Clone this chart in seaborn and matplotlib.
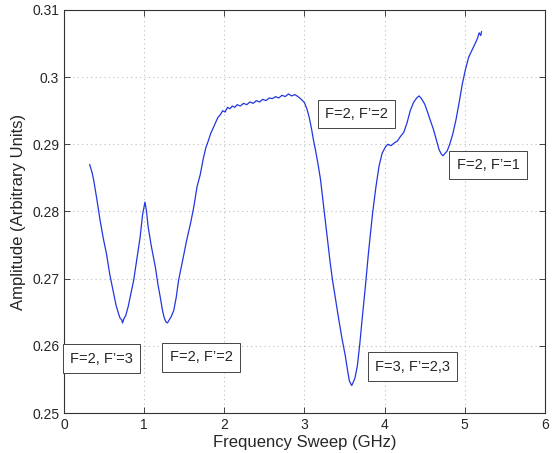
import matplotlib
matplotlib.use("Agg")
import matplotlib.pyplot as plt
import seaborn as sns
import pandas as pd

# frequency sweep (GHz) and amplitude
freq = [0.32, 0.35, 0.37, 0.41, 0.45, 0.49, 0.53, 0.57, 0.62, 0.65, 0.68, 0.70,
        0.72, 0.73, 0.75, 0.77, 0.80, 0.83, 0.87, 0.91, 0.95, 0.98, 1.00, 1.01,
        1.03, 1.05, 1.09, 1.14, 1.17, 1.20, 1.23, 1.25, 1.27, 1.29, 1.31, 1.34,
        1.37, 1.40, 1.43, 1.48, 1.53, 1.58, 1.62, 1.66, 1.70, 1.74, 1.77, 1.80,
        1.83, 1.86, 1.89, 1.92, 1.95, 1.98, 2.01, 2.04, 2.07, 2.10, 2.13, 2.16,
        2.20, 2.24, 2.28, 2.32, 2.36, 2.40, 2.44, 2.48, 2.52, 2.56, 2.60, 2.64,
        2.68, 2.72, 2.76, 2.80, 2.84, 2.88, 2.92, 2.96, 3.00, 3.03, 3.06, 3.09,
        3.11, 3.14, 3.17, 3.20, 3.24, 3.28, 3.32, 3.35, 3.39, 3.43, 3.47, 3.51,
        3.54, 3.56, 3.58, 3.59, 3.61, 3.63, 3.66, 3.69, 3.72, 3.76, 3.80, 3.85,
        3.89, 3.93, 3.97, 4.01, 4.04, 4.08, 4.12, 4.16, 4.20, 4.24, 4.28, 4.32,
        4.36, 4.40, 4.43, 4.46, 4.50, 4.53, 4.57, 4.61, 4.65, 4.68, 4.71, 4.73,
        4.75, 4.78, 4.81, 4.85, 4.89, 4.93, 4.97, 5.01, 5.05, 5.09, 5.13, 5.16,
        5.18, 5.20, 5.21]
amp = [0.2870, 0.2858, 0.2847, 0.2818, 0.2787, 0.2760, 0.2737, 0.2707, 0.2678, 0.2660, 0.2648, 0.2641,
       0.2639, 0.2634, 0.2641, 0.2645, 0.2658, 0.2675, 0.2698, 0.2730, 0.2762, 0.2795, 0.2808, 0.2814,
       0.2800, 0.2777, 0.2748, 0.2717, 0.2693, 0.2673, 0.2652, 0.2642, 0.2636, 0.2634, 0.2638, 0.2644,
       0.2653, 0.2672, 0.2698, 0.2727, 0.2757, 0.2783, 0.2807, 0.2837, 0.2855, 0.2880, 0.2895, 0.2905,
       0.2916, 0.2924, 0.2932, 0.2940, 0.2944, 0.2950, 0.2948, 0.2955, 0.2953, 0.2957, 0.2955, 0.2959,
       0.2957, 0.2961, 0.2959, 0.2963, 0.2961, 0.2965, 0.2963, 0.2967, 0.2965, 0.2969, 0.2968, 0.2971,
       0.2969, 0.2973, 0.2971, 0.2975, 0.2972, 0.2974, 0.2971, 0.2967, 0.2962, 0.2953, 0.2940, 0.2922,
       0.2908, 0.2890, 0.2870, 0.2848, 0.2807, 0.2765, 0.2725, 0.2698, 0.2668, 0.2638, 0.2610, 0.2585,
       0.2562, 0.2548, 0.2543, 0.2541, 0.2546, 0.2552, 0.2570, 0.2602, 0.2640, 0.2688, 0.2740, 0.2797,
       0.2835, 0.2867, 0.2887, 0.2896, 0.2900, 0.2898, 0.2902, 0.2905, 0.2912, 0.2918, 0.2932, 0.2950,
       0.2962, 0.2969, 0.2972, 0.2968, 0.2960, 0.2950, 0.2936, 0.2922, 0.2905, 0.2892, 0.2885, 0.2883,
       0.2886, 0.2890, 0.2899, 0.2915, 0.2936, 0.2962, 0.2990, 0.3012, 0.3030, 0.3040, 0.3050, 0.3058,
       0.3066, 0.3062, 0.3068]

# transition labels and where they sit (data coords)
labels = ["F=2, F\u2019=3", "F=2, F\u2019=2", "F=3, F\u2019=2,3", "F=2, F\u2019=2", "F=2, F\u2019=1"]
label_x = [0.47, 1.71, 4.35, 3.65, 5.29]
label_y = [0.2581, 0.2583, 0.2569, 0.2945, 0.2869]

xticks = [0, 1, 2, 3, 4, 5, 6]
yticks = [0.25, 0.26, 0.27, 0.28, 0.29, 0.30, 0.31]
ytick_labels = ["0.25", "0.26", "0.27", "0.28", "0.29", "0.3", "0.31"]

df = pd.DataFrame({"freq": freq, "amp": amp})

sns.set_style("ticks")
plt.rcParams["font.family"] = ["Liberation Sans", "DejaVu Sans"]

fig = plt.figure(figsize=(5.6, 4.53), dpi=100)
ax = fig.add_axes([0.1143, 0.0883, 0.8587, 0.8897])

sns.lineplot(data=df, x="freq", y="amp", ax=ax, color="#2236e0", linewidth=0.9)

ax.set_xlim(0, 6)
ax.set_ylim(0.25, 0.31)
ax.set_xticks(xticks)
ax.set_xticklabels([str(t) for t in xticks])
ax.set_yticks(yticks)
ax.set_yticklabels(ytick_labels)
ax.grid(True, linestyle=(0, (1, 3)), color="#bdbdbd", linewidth=0.8)
ax.tick_params(direction="in", top=True, right=True, labelsize=10, length=4, width=0.6)
for s in ax.spines.values():
    s.set_visible(True)
    s.set_color("#333333")
    s.set_linewidth(0.8)

ax.set_xlabel("Frequency Sweep (GHz)", fontsize=12, labelpad=2)
ax.set_ylabel("Amplitude (Arbitrary Units)", fontsize=12, labelpad=4)

for lab, lx, ly in zip(labels, label_x, label_y):
    ax.text(lx, ly, lab, ha="center", va="center", fontsize=10.5,
            bbox=dict(boxstyle="square,pad=0.5", fc="white", ec="#444444", lw=0.7))

plt.savefig("out.png", dpi=100)
plt.close()
